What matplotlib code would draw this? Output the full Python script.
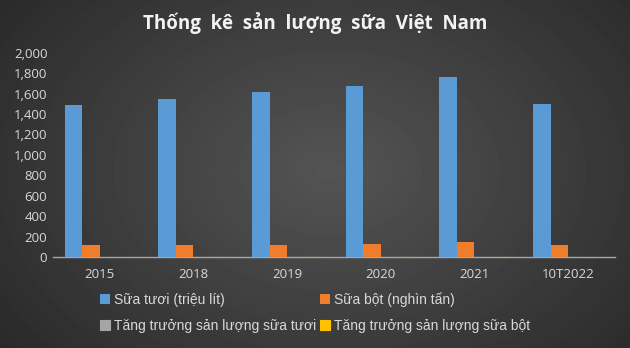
import numpy as np
import matplotlib
matplotlib.use('Agg')
import matplotlib.pyplot as plt

# data
categories = ['2015', '2018', '2019', '2020', '2021', '10T2022']
sua_tuoi = [1490, 1549, 1618, 1676, 1765, 1500]          # triệu lít
sua_bot = [118, 118, 118, 127, 147, 118]                 # nghìn tấn
tang_truong_tuoi = [np.nan, 0.04, 0.045, 0.036, 0.053, np.nan]
tang_truong_bot = [np.nan, 0.02, 0.03, 0.02, 0.04, np.nan]

series_labels = ['Sữa tươi (triệu lít)', 'Sữa bột (nghìn tấn)',
                 'Tăng trưởng sản lượng sữa tươi', 'Tăng trưởng sản lượng sữa bột']
colors = ['#5b9bd5', '#f07d2c', '#a5a5a5', '#ffc000']

text_color = '#d9d9d9'

fig = plt.figure(figsize=(6.3, 3.48), dpi=100)

# dark radial background like the excel "dark" style
bg = fig.add_axes([0, 0, 1, 1])
yy, xx = np.mgrid[0:348, 0:630]
r = np.sqrt(((xx - 330) / 420.0) ** 2 + ((yy - 170) / 300.0) ** 2)
shade = np.clip(0.33 - 0.17 * r, 0.15, 0.33)
bg.imshow(shade, cmap='gray', vmin=0, vmax=1, aspect='auto', extent=[0, 1, 0, 1])
bg.axis('off')

ax = fig.add_axes([0.084, 0.2615, 0.892, 0.587])
ax.patch.set_alpha(0)

x = np.arange(len(categories))
w = 0.187
data = [sua_tuoi, sua_bot, tang_truong_tuoi, tang_truong_bot]
handles = []
for i, (vals, c, lab) in enumerate(zip(data, colors, series_labels)):
    offs = (i - 1.5) * w
    lw = 0.8 if i >= 2 else 0
    b = ax.bar(x + offs, vals, w, color=c, edgecolor=c, linewidth=lw, label=lab, zorder=3)
    handles.append(b)

ax.set_xlim(-0.5, len(categories) - 0.5)
ax.set_ylim(0, 2000)
ax.set_yticks(range(0, 2001, 200))
ax.set_yticklabels([f'{v:,}' for v in range(0, 2001, 200)])
ax.set_xticks(x)
ax.set_xticklabels(categories)
ax.tick_params(length=0, colors=text_color, labelsize=9.5)
ax.tick_params(axis='x', pad=8)
ax.tick_params(axis='y', pad=4)
for lab in ax.get_xticklabels() + ax.get_yticklabels():
    lab.set_family('Open Sans')
for s in ['top', 'right', 'left']:
    ax.spines[s].set_visible(False)
ax.spines['bottom'].set_color('#a6a6a6')
ax.spines['bottom'].set_linewidth(1)

fig.text(0.5, 0.935, 'Thống  kê  sản  lượng  sữa  Việt  Nam', ha='center', va='center',
         color='#f2f2f2', fontsize=13.5, fontweight='bold', family='Open Sans')

# legend fills column-wise, reorder so rows read like the reference
order = [0, 2, 1, 3]
leg = fig.legend(handles=[handles[i] for i in order],
                 labels=[series_labels[i] for i in order], ncol=2, loc='center',
                 bbox_to_anchor=(0.5, 0.102), frameon=False, handlelength=0.7,
                 handleheight=0.7, handletextpad=0.3, columnspacing=0.3,
                 labelspacing=0.9, prop={'family': 'Liberation Sans', 'size': 10})
for t in leg.get_texts():
    t.set_color(text_color)

fig.savefig('out.png', dpi=100)
